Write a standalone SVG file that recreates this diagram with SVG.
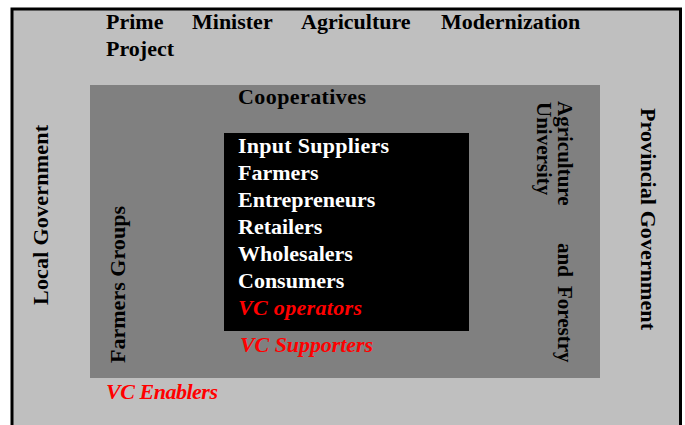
<svg xmlns="http://www.w3.org/2000/svg" width="685" height="425" viewBox="0 0 685 425">
  <style>
    text { font-family: "Liberation Serif", "Times New Roman", serif; font-size: 22px; font-weight: bold; fill: #000; }
    .light { fill: #fff; }
    .red { fill: #ff0000; font-style: italic; }
    .side { font-size: 21px; }
  </style>

  <!-- Enablers: outer frame -->
  <g id="enablers">
    <rect x="12" y="9" width="668.5" height="430" fill="#bfbfbf" stroke="#000" stroke-width="3"/>
    <text x="106" y="29"><tspan x="106">Prime</tspan><tspan x="192">Minister</tspan><tspan x="301">Agriculture</tspan><tspan x="441">Modernization</tspan></text>
    <text x="106" y="56">Project</text>
    <text transform="translate(48,305) rotate(-90)" x="0" y="0" textLength="180">Local Government</text>
    <text transform="translate(641,108) rotate(90)" x="0" y="0" textLength="222">Provincial Government</text>
    <text class="red" x="106" y="399" textLength="112">VC Enablers</text>
  </g>

  <!-- Supporters: middle panel -->
  <g id="supporters">
    <rect x="90" y="85" width="510" height="293" fill="#808080"/>
    <text x="238" y="104" textLength="128">Cooperatives</text>
    <text transform="translate(125,363) rotate(-90)" x="0" y="0" textLength="157">Farmers Groups</text>
    <text class="side" transform="translate(558,101) rotate(90)"><tspan x="0" y="0">Agriculture</tspan><tspan x="142" y="0">and</tspan><tspan x="185" y="0">Forestry</tspan></text>
    <text class="side" transform="translate(537,102) rotate(90)" x="0" y="0">University</text>
    <text class="red" x="240" y="352" textLength="133">VC Supporters</text>
  </g>

  <!-- Operators: inner box -->
  <g id="operators">
    <rect x="224" y="133" width="245" height="198" fill="#000"/>
    <text class="light" x="238" y="153" textLength="151">Input Suppliers</text>
    <text class="light" x="238" y="180">Farmers</text>
    <text class="light" x="238" y="207">Entrepreneurs</text>
    <text class="light" x="238" y="234">Retailers</text>
    <text class="light" x="238" y="261">Wholesalers</text>
    <text class="light" x="238" y="288">Consumers</text>
    <text class="red" x="238" y="315" textLength="124">VC operators</text>
  </g>
</svg>
